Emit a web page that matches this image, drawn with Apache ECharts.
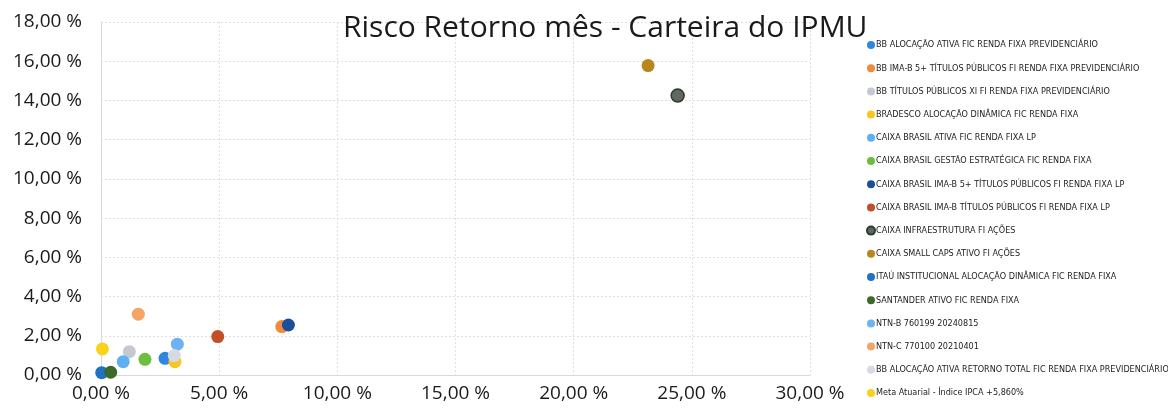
<!DOCTYPE html>
<html>
<head>
<meta charset="utf-8">
<script src="https://cdn.jsdelivr.net/npm/echarts@6/dist/echarts.min.js"></script>
<style>
html,body{margin:0;padding:0;background:#fff;}
#chart{width:1168px;height:415px;}
</style>
</head>
<body>
<div id="chart"></div>
<script>
// Series names (legend order)
var seriesNames = [
  "BB ALOCAÇÃO ATIVA FIC RENDA FIXA PREVIDENCIÁRIO",
  "BB IMA-B 5+ TÍTULOS PÚBLICOS FI RENDA FIXA PREVIDENCIÁRIO",
  "BB TÍTULOS PÚBLICOS XI FI RENDA FIXA PREVIDENCIÁRIO",
  "BRADESCO ALOCAÇÃO DINÂMICA FIC RENDA FIXA",
  "CAIXA BRASIL ATIVA FIC RENDA FIXA LP",
  "CAIXA BRASIL GESTÃO ESTRATÉGICA FIC RENDA FIXA",
  "CAIXA BRASIL IMA-B 5+ TÍTULOS PÚBLICOS FI RENDA FIXA LP",
  "CAIXA BRASIL IMA-B TÍTULOS PÚBLICOS FI RENDA FIXA LP",
  "CAIXA INFRAESTRUTURA FI AÇÕES",
  "CAIXA SMALL CAPS ATIVO FI AÇÕES",
  "ITAÚ INSTITUCIONAL ALOCAÇÃO DINÂMICA FIC RENDA FIXA",
  "SANTANDER ATIVO FIC RENDA FIXA",
  "NTN-B 760199 20240815",
  "NTN-C 770100 20210401",
  "BB ALOCAÇÃO ATIVA RETORNO TOTAL FIC RENDA FIXA PREVIDENCIÁRIO",
  "Meta Atuarial - Índice IPCA +5,860%"
];
// Risk (x, %) per series
var riskValues = [2.71, 7.65, 1.20, 3.13, 0.94, 1.86, 7.93, 4.94, 24.40, 23.15, 0.03, 0.41, 3.23, 1.58, 3.10, 0.06];
// Return (y, %) per series
var returnValues = [0.85, 2.47, 1.19, 0.68, 0.68, 0.80, 2.55, 1.96, 14.25, 15.78, 0.12, 0.14, 1.57, 3.10, 0.99, 1.33];
// Colors per series
var seriesColors = ["#2f86dc", "#f08a3c", "#c4c8d0", "#f8c61e", "#5fb0f2", "#6cbf3e", "#1b4f9c", "#c14f28", "#5e6a5f", "#b8861c", "#1f72c6", "#3d6a2a", "#6eb2f2", "#f4a564", "#d6dae2", "#f8d21c"];
var borderColors = ["", "", "", "", "", "", "", "", "#2f3a30", "", "", "", "", "", "", ""];

var title = "Risco Retorno mês - Carteira do IPMU";
var xMin = 0, xMax = 30, xStep = 5;
var yMin = 0, yMax = 18, yStep = 2;

function pct(v){ return v.toFixed(2).replace('.', ',') + ' %'; }

var series = seriesNames.map(function(n, i){
  return {
    name: n,
    type: 'scatter',
    symbolSize: 13,
    itemStyle: {
      color: seriesColors[i],
      borderColor: borderColors[i] || seriesColors[i],
      borderWidth: borderColors[i] ? 1.5 : 0,
      opacity: 1
    },
    data: [[riskValues[i], returnValues[i]]]
  };
});

var chart = echarts.init(document.getElementById('chart'), null, {renderer: 'canvas'});
chart.setOption({
  animation: false,
  backgroundColor: '#ffffff',
  title: {
    text: title,
    left: 338,
    top: 8,
    textStyle: {fontFamily: "'Open Sans', sans-serif", fontSize: 30, fontWeight: 'normal', color: '#1a1a1a'}
  },
  legend: {
    orient: 'vertical',
    left: 861,
    top: 35,
    icon: 'circle',
    itemWidth: 8,
    itemHeight: 8,
    itemGap: 13.2,
    textStyle: {fontFamily: "'Liberation Sans Narrow', 'DejaVu Sans Condensed', sans-serif", fontSize: 9, color: '#222', lineHeight: 10, padding: [0,0,0,-4]},
    data: seriesNames
  },
  grid: {left: 101, right: 358, top: 22, bottom: 40, containLabel: false},
  xAxis: {
    type: 'value', min: xMin, max: xMax, interval: xStep,
    axisLine: {show: true, lineStyle: {color: '#d9d9d9'}},
    axisTick: {show: false},
    axisLabel: {formatter: pct, fontFamily: "'Open Sans', sans-serif", fontSize: 19, color: '#1a1a1a', margin: 9},
    splitLine: {show: true, lineStyle: {color: '#e0e0e0', type: [2, 2]}}
  },
  yAxis: {
    type: 'value', min: yMin, max: yMax, interval: yStep,
    axisLine: {show: true, lineStyle: {color: '#d9d9d9'}},
    axisTick: {show: false},
    axisLabel: {formatter: pct, fontFamily: "'Open Sans', sans-serif", fontSize: 19, color: '#1a1a1a', margin: 19},
    splitLine: {show: true, lineStyle: {color: '#e0e0e0', type: [2, 2]}}
  },
  series: series
});
</script>
</body>
</html>
